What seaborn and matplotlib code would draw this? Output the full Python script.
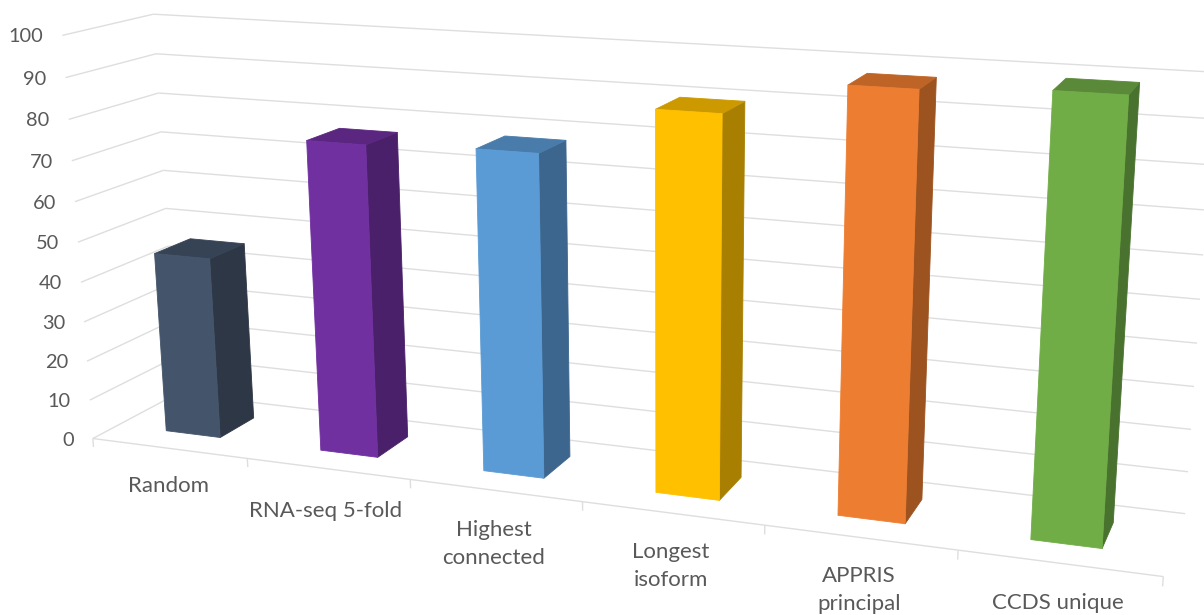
import numpy as np
import matplotlib
matplotlib.use("Agg")
import matplotlib.pyplot as plt
import seaborn as sns
from mpl_toolkits.mplot3d.art3d import Poly3DCollection, Line3DCollection

# Chart content
categories = ["Random", "RNA-seq 5-fold", "Highest\nconnected", "Longest\nisoform", "APPRIS\nprincipal", "CCDS unique"]
values = [45.7, 76.7, 77.7, 89.5, 97.4, 98.8]
value_ticks = list(range(0, 101, 10))
front_colors = ["#44546A", "#7030A0", "#5B9BD5", "#FFC000", "#ED7D31", "#70AD47"]

sns.set_theme(style="white")
plt.rcParams["font.family"] = ["Lato", "DejaVu Sans"]
TEXT = "#595959"
GRID = "#DEDEDE"
W, H = 1204, 615

# Camera: 3-D box coordinates (category, depth, value) to pixel positions
box_anchors = np.array([
    (0, 0, 0), (6, 0, 0), (6, 1, 0), (0, 1, 0),
    (0, 1, 100), (0, 0, 100), (6, 1, 100),
    (1, 0, 0), (2, 0, 0), (3, 0, 0), (4, 0, 0), (5, 0, 0),
    (0, 1, 70), (6, 1, 10), (0, 0, 10),
], float)
pixel_anchors = np.array([
    (92, 438), (1163, 577), (1185, 514), (179, 393),
    (153, 15), (63.5, 35.5), (1216, 71),
    (247, 458), (414, 480), (582, 501.6), (764, 525), (958, 550.4),
    (160, 132), (1188, 472), (88, 400),
], float)


def fit_camera(world, pixels):
    rows, rhs = [], []
    for (X, Y, Z), (u, v) in zip(world, pixels):
        rows.append([X, Y, Z, 1, 0, 0, 0, 0, -u * X, -u * Y, -u * Z])
        rows.append([0, 0, 0, 0, X, Y, Z, 1, -v * X, -v * Y, -v * Z])
        rhs += [u, v]
    sol = np.linalg.lstsq(np.array(rows), np.array(rhs), rcond=None)[0]
    return np.append(sol, 1.0).reshape(3, 4)


P = fit_camera(box_anchors, pixel_anchors)
M = np.vstack([P[0], P[1], [0, 1, 0, 0], P[2]])


def to_pixel(X, Y, Z):
    h = P @ np.array([X, Y, Z, 1.0])
    return h[0] / h[2], h[1] / h[2]


fig = plt.figure(figsize=(W / 100, H / 100), dpi=100, facecolor="white")
ax = fig.add_axes([0, 0, 1, 1], projection="3d", computed_zorder=False)
ax.apply_aspect = lambda position=None: None
ax.get_proj = lambda: M
ax.viewLim.set_points(np.array([[0, H], [W, 0]], float))
ax.set_axis_off()
ax.autoscale(False)
ax.patch.set_facecolor("white")

# Gridlines on the back and side walls, front edge of the floor and its ticks
segments = []
for t in value_ticks:
    segments.append([(0, 0, t), (0, 1, t)])
    segments.append([(0, 1, t), (6, 1, t)])
segments.append([(0, 0, 0), (6, 0, 0)])
for k in range(7):
    segments.append([(k, 0, 0), (k, 0, -2.2)])
ax.add_collection3d(Line3DCollection(segments, colors=GRID, linewidths=1.0, zorder=1), autolim=False)

# Bars: each one is a box whose height is its value
BAR_X = (0.31, 0.665)
BAR_Y = (0.30, 0.72)
palette = sns.color_palette(front_colors)
for i, (val, col) in enumerate(zip(values, palette)):
    x0, x1 = i + BAR_X[0], i + BAR_X[1]
    y0, y1 = BAR_Y
    faces = [
        ([(x1, y0, 0), (x1, y1, 0), (x1, y1, val), (x1, y0, val)], 0.66),
        ([(x0, y0, val), (x1, y0, val), (x1, y1, val), (x0, y1, val)], 0.80),
        ([(x0, y0, 0), (x1, y0, 0), (x1, y0, val), (x0, y0, val)], 1.0),
    ]
    for z, (verts, shade) in enumerate(faces):
        c = tuple(np.array(col) * shade)
        poly = Poly3DCollection([verts], facecolor=c, edgecolor=c, linewidth=0.6, zorder=3 + z)
        ax.add_collection3d(poly, autolim=False)

# Value labels beside the side wall
for t in value_ticks:
    px, py = to_pixel(0, 0, t)
    ax.text2D(px - 19, py + 1.5, str(t), transform=ax.transData, ha="right", va="center",
              color=TEXT, fontsize=14.4)

# Category labels under the front edge
label_x = [168, 326, 494, 671, 859, 1058]
label_y = [486, 511, 544, 566, 590, 603]
for s, lx, ly in zip(categories, label_x, label_y):
    ax.text2D(lx, ly, s, transform=ax.transData, ha="center", va="center", color=TEXT,
              fontsize=16, linespacing=1.45)

fig.savefig("out.png", dpi=100)
